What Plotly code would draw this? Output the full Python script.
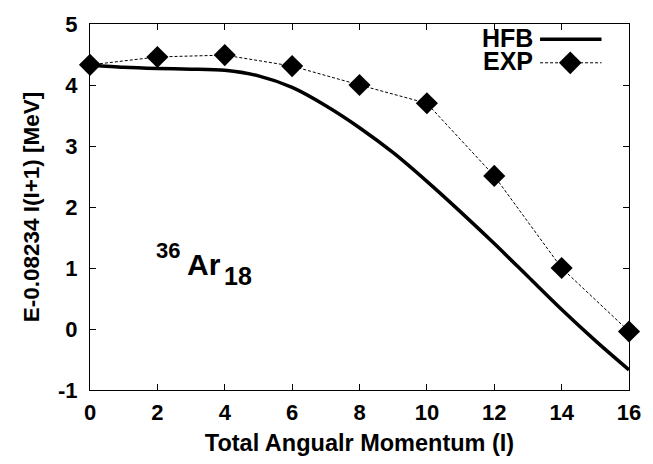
import plotly.graph_objects as go

# HFB theoretical curve
hfb_I = [0, 1, 2, 3, 4, 5, 6, 7, 8, 9, 10, 11, 12, 13, 14, 15, 16]
hfb_E = [4.33, 4.29, 4.27, 4.26, 4.24, 4.15, 3.96, 3.66, 3.30, 2.89, 2.42, 1.92, 1.40, 0.86, 0.32, -0.19, -0.67]

# Experimental points
exp_I = [0, 2, 4, 6, 8, 10, 12, 14, 16]
exp_E = [4.33, 4.46, 4.49, 4.31, 4.00, 3.70, 2.51, 1.00, -0.04]

x_ticks = [0, 2, 4, 6, 8, 10, 12, 14, 16]
y_ticks = [-1, 0, 1, 2, 3, 4, 5]

FONT = "Liberation Sans"

def bold(size):
    return dict(family=FONT, size=size, color="black", weight="bold")

fig = go.Figure()
fig.add_trace(go.Scatter(x=hfb_I, y=hfb_E, mode="lines", name="HFB",
                         line=dict(color="black", width=3.5, shape="spline", smoothing=0.8),
                         showlegend=False, cliponaxis=False))
fig.add_trace(go.Scatter(x=exp_I, y=exp_E, mode="lines+markers", name="EXP",
                         line=dict(color="black", width=1, dash="3px,2px"),
                         marker=dict(symbol="diamond", size=17, color="black"),
                         showlegend=False, cliponaxis=False))

# manual legend (text left, sample on the right like the original)
fig.add_annotation(xref="paper", yref="paper", x=0.826, y=0.962, text="HFB",
                   showarrow=False, xanchor="right", yanchor="middle", font=bold(25),
                   height=22, valign="middle")
fig.add_annotation(xref="paper", yref="paper", x=0.826, y=0.899, text="EXP",
                   showarrow=False, xanchor="right", yanchor="middle", font=bold(25),
                   height=22, valign="middle")
fig.add_shape(type="line", xref="paper", yref="paper", x0=0.835, x1=0.949, y0=0.958, y1=0.958,
              line=dict(color="black", width=3.5))
fig.add_shape(type="line", xref="paper", yref="paper", x0=0.835, x1=0.949, y0=0.894, y1=0.894,
              line=dict(color="black", width=1, dash="3px,2px"))
fig.add_shape(type="path", xref="paper", yref="paper",
              path="M 0.891 0.863 L 0.912 0.894 L 0.891 0.925 L 0.870 0.894 Z",
              fillcolor="black", line=dict(color="black", width=0))

# nucleus label 36Ar18
fig.add_annotation(x=3.38, y=1.05, text="Ar", showarrow=False,
                   xanchor="center", yanchor="middle", font=bold(30))
fig.add_annotation(x=2.33, y=1.28, text="36", showarrow=False,
                   xanchor="center", yanchor="middle", font=bold(22))
fig.add_annotation(x=4.38, y=0.87, text="18", showarrow=False,
                   xanchor="center", yanchor="middle", font=bold(25))

axis_common = dict(showline=True, linecolor="black", linewidth=1, mirror="ticks",
                   ticks="inside", ticklen=6, tickcolor="black", showgrid=False,
                   zeroline=False, tickfont=bold(22))

fig.update_xaxes(range=[0, 16], tickvals=x_ticks, ticktext=[str(v) for v in x_ticks],
                 ticklabelstandoff=3,
                 title=dict(text="Total Angualr Momentum (I)", standoff=10, font=bold(23.5)),
                 **axis_common)
fig.update_yaxes(range=[-1, 5], tickvals=y_ticks, ticktext=[str(v) for v in y_ticks],
                 ticklabelstandoff=7,
                 title=dict(text="E-0.08234 I(I+1) [MeV]", standoff=12, font=bold(22.5)),
                 **axis_common)

fig.update_layout(width=653, height=464, plot_bgcolor="white", paper_bgcolor="white",
                  margin=dict(l=90, r=18, t=19, b=72, pad=0))

fig.write_html("out.html")
